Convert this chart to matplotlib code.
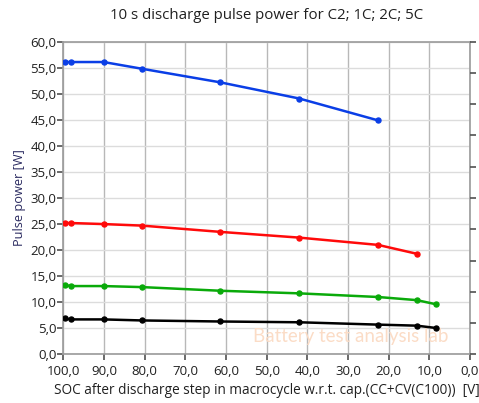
import matplotlib.pyplot as plt
from matplotlib.ticker import FuncFormatter

# SOC positions (%)
soc_blue = [99.7, 98.1, 90.1, 80.6, 61.4, 42.0, 22.6]
soc_red = [99.7, 98.1, 90.1, 80.6, 61.4, 42.0, 22.6, 13.1]
soc_green = [99.7, 98.1, 90.1, 80.6, 61.4, 42.0, 22.6, 13.1, 8.3]
soc_black = [99.7, 98.1, 90.1, 80.6, 61.4, 42.0, 22.6, 13.1, 8.3]

# pulse power (W)
p_blue = [56.1, 56.1, 56.1, 54.8, 52.2, 49.1, 44.9]
p_red = [25.2, 25.2, 25.0, 24.7, 23.5, 22.4, 21.0, 19.3]
p_green = [13.3, 13.1, 13.1, 12.9, 12.2, 11.7, 11.0, 10.4, 9.6]
p_black = [6.9, 6.7, 6.7, 6.5, 6.3, 6.15, 5.7, 5.5, 5.05]

series = [
    (soc_blue, p_blue, "#0a3ee6"),
    (soc_red, p_red, "#ff0a0a"),
    (soc_green, p_green, "#0aaa0a"),
    (soc_black, p_black, "#000000"),
]

plt.rcParams['font.family'] = ['Open Sans', 'DejaVu Sans']

fig = plt.figure(figsize=(4.79, 4.03), dpi=100)
ax = fig.add_axes([0.1322, 0.1208, 0.849, 0.7757])

for x, y, c in series:
    ax.plot(x, y, color=c, linewidth=1.8, marker="o", markersize=3.6, zorder=3)

comma = FuncFormatter(lambda v, pos: "{:.1f}".format(v).replace(".", ","))

ax.set_xlim(100, 0)
ax.set_ylim(0, 60)
ax.set_xticks(range(100, -1, -10))
ax.set_yticks(range(0, 61, 5))
ax.xaxis.set_major_formatter(comma)
ax.yaxis.set_major_formatter(comma)

ax.grid(axis="y", color="#dcdcdc", linewidth=1.0)
ax.grid(axis="x", color="#b8b8b8", linewidth=1.0)
ax.set_axisbelow(True)

for s in ax.spines.values():
    s.set_color("#9a9a9a")
    s.set_linewidth(1.2)

ax.tick_params(axis="both", direction="out", length=4, width=1.2,
               color="#505050", labelsize=9.5, labelcolor="#202020", pad=1)
ax.tick_params(axis="x", pad=4)

# right-hand axis with unlabeled ticks
ax2 = ax.twinx()
ax2.set_ylim(0, 10)
ax2.set_yticks(range(0, 11))
ax2.set_yticklabels([])
ax2.tick_params(axis="y", direction="out", length=4, width=1.2, color="#505050", pad=1)
for s in ax2.spines.values():
    s.set_visible(False)

ax.set_title("10 s discharge pulse power for C2; 1C; 2C; 5C",
             fontsize=10.8, color="#202020", pad=16)
ax.set_ylabel("Pulse power [W]", fontsize=9.2, color="#2a2a60", labelpad=3)
ax.set_xlabel("SOC after discharge step in macrocycle w.r.t. cap.(CC+CV(C100))  [V]",
              fontsize=9.8, color="#202020", labelpad=3)

# watermark
ax.text(0.707, 0.058, "Battery test analysis lab", transform=ax.transAxes,
        fontsize=13.5, color="#fbdcc6", ha="center", va="center",
        family=["Lato", "DejaVu Sans"], zorder=1)

fig.savefig("out.png", dpi=100)
